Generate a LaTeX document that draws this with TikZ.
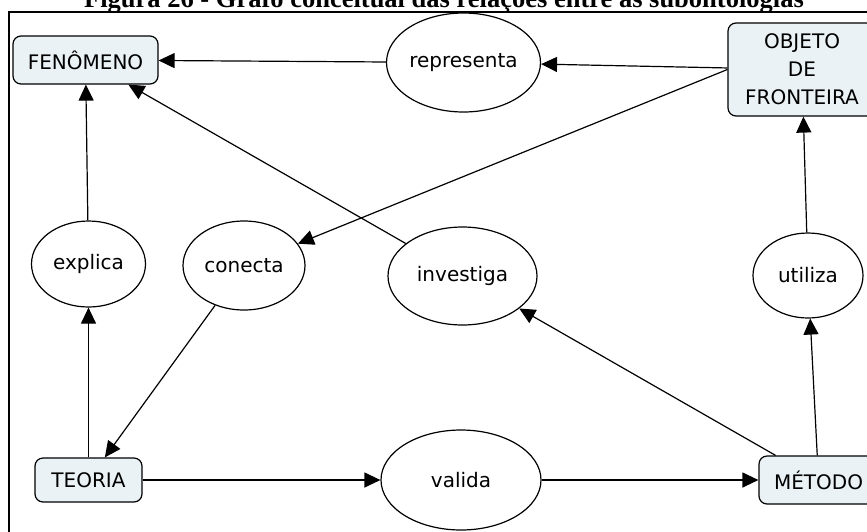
\documentclass[tikz,border=0pt]{standalone}
\usepackage{fontspec}
\setmainfont{DejaVu Sans}
\newfontfamily\titlefont{Liberation Serif}
\usetikzlibrary{shapes.geometric,arrows.meta,positioning}
\definecolor{boxfill}{RGB}{234,242,245}

\begin{document}
\begin{tikzpicture}[x=1pt,y=-1pt,line width=1.2pt,
    -{Triangle[length=16pt,width=15pt]},
    concept/.style={draw,rounded corners=8pt,fill=boxfill,align=center,inner sep=0pt,
        font=\fontsize{20}{28}\selectfont},
    relation/.style={draw,ellipse,inner sep=0pt,font=\fontsize{20}{24}\selectfont}]
    \useasboundingbox (0,0) rectangle (867,531);
    \draw[-] (9,12) rectangle (880,545);
    \node[anchor=base,font=\titlefont\bfseries\fontsize{26.5}{30}\selectfont] (titulo) at (444,7)
        {Figura 26 - Grafo conceitual das relações entre as subontologias};

    \node[concept,minimum width=145pt,minimum height=48pt] (fenomeno) at (85.5,60) {FENÔMENO};
    \node[relation,minimum width=154pt,minimum height=99pt] (representa) at (463.5,62.5) {representa};
    \node[concept,minimum width=148pt,minimum height=93pt] (objeto) at (802,69.5) {OBJETO\\DE\\FRONTEIRA};
    \node[concept,minimum width=107pt,minimum height=44pt] (teoria) at (88.5,480) {TEORIA};
    \node[relation,minimum width=114pt,minimum height=86pt] (explica) [above of=teoria,node distance=216pt] {explica};
    \node[relation,minimum width=122pt,minimum height=89pt] (conecta) at (244,265.5) {conecta};
    \node[relation,minimum width=149pt,minimum height=98pt] (investiga) at (462.5,276) {investiga};
    \node[relation,minimum width=160pt,minimum height=100pt] (valida) [right of=teoria,node distance=372.5pt] {valida};
    \node[concept,minimum width=119pt,minimum height=48pt] (metodo) [right of=valida,node distance=357.5pt] {MÉTODO};
    \node[relation,minimum width=110pt,minimum height=85pt] (utiliza) at (808,275.5) {utiliza};

    \path
    (representa) edge (fenomeno)
    (objeto) edge (representa)
    (objeto.west) edge (conecta)
    (investiga) edge (fenomeno)
    (explica) edge (fenomeno)
    (conecta) edge (teoria)
    (teoria) edge (explica)
    (teoria) edge (valida)
    (valida) edge (metodo)
    (metodo) edge (investiga)
    (metodo) edge (utiliza)
    (utiliza) edge (objeto);
\end{tikzpicture}
\end{document}
